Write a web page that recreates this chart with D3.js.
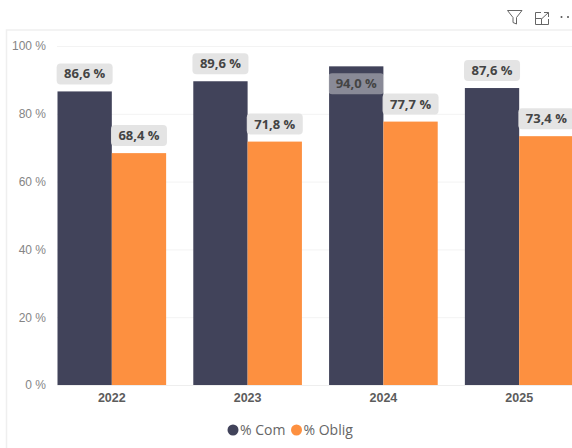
<!DOCTYPE html>
<html>
<head>
<meta charset="utf-8">
<script src="https://cdn.jsdelivr.net/npm/d3@7"></script>
<style>
  html, body { margin: 0; padding: 0; background: #fff; overflow: hidden; }
  svg { display: block; font-family: "Open Sans", sans-serif; }
</style>
</head>
<body>
<svg id="chart" width="572" height="448"></svg>
<script>
const years = ['2022', '2023', '2024', '2025'];
const seriesNames = ['% Com', '% Oblig'];
const comValues = [86.6, 89.6, 94.0, 87.6];
const obligValues = [68.4, 71.8, 77.7, 73.4];
const yTicks = [0, 20, 40, 60, 80, 100];
const seriesColors = ['#41435a', '#fd9040'];

const svg = d3.select('#chart');
const fmt = v => v.toFixed(1).replace('.', ',') + ' %';

// frame of the visual
svg.append('path')
  .attr('d', 'M573,30H6.5V448')
  .attr('fill', 'none')
  .attr('stroke', '#efefef')
  .attr('stroke-width', 1.5);

// scales
const x0 = d3.scaleBand().domain(years).range([57.5, 573.5]).paddingInner(0.2);
const x1 = d3.scaleBand().domain(seriesNames).range([0, x0.bandwidth()]);
const y = d3.scaleLinear().domain([0, 100]).range([385, 46]);

// grid + y axis
const yAxis = svg.append('g')
  .attr('transform', 'translate(57,0)')
  .call(d3.axisLeft(y).tickValues(yTicks).tickFormat(d => d + ' %').tickSize(0).tickPadding(11));
yAxis.select('.domain').remove();
yAxis.selectAll('text')
  .attr('fill', '#858585')
  .style('font-size', '12px');
yAxis.selectAll('.tick').append('line')
  .attr('x2', 516)
  .attr('stroke', '#f3f3f3')
  .attr('stroke-width', 1);

// bars
const rows = years.map((year, i) => ({ year, values: [comValues[i], obligValues[i]] }));
const groups = svg.selectAll('.year')
  .data(rows)
  .join('g')
  .attr('class', 'year')
  .attr('transform', d => `translate(${x0(d.year)},0)`);

groups.selectAll('rect')
  .data(d => d.values.map((v, i) => ({ name: seriesNames[i], value: v, color: seriesColors[i] })))
  .join('rect')
  .attr('x', d => x1(d.name))
  .attr('y', d => y(d.value))
  .attr('width', x1.bandwidth())
  .attr('height', d => y(0) - y(d.value))
  .attr('fill', d => d.color);

// x axis
const xAxis = svg.append('g')
  .attr('transform', 'translate(0,385)')
  .call(d3.axisBottom(x0).tickSize(0).tickPadding(8));
xAxis.select('.domain').attr('stroke', '#eee');
xAxis.selectAll('text')
  .attr('fill', '#5c5c5c')
  .style('font-size', '12.5px')
  .style('font-weight', '700');

// data labels (pills), moved inside the bar when there is no room above
const pillW = 56, pillH = 21;
const labels = groups.selectAll('.label')
  .data(d => d.values.map((v, i) => ({ name: seriesNames[i], value: v })))
  .join('g')
  .attr('class', 'label')
  .attr('transform', d => {
    const cx = x1(d.name) + x1.bandwidth() / 2;
    const top = d.value > 90 ? y(d.value) + 7 : y(d.value) - 7 - pillH;
    return `translate(${cx},${top})`;
  });

labels.append('rect')
  .attr('x', -pillW / 2)
  .attr('width', pillW)
  .attr('height', pillH)
  .attr('rx', 4)
  .attr('fill', '#e3e3e3')
  .attr('fill-opacity', d => d.value > 90 ? 0.45 : 0.95);

labels.append('text')
  .attr('y', pillH / 2)
  .attr('dy', '0.35em')
  .attr('text-anchor', 'middle')
  .attr('fill', '#444')
  .style('font-size', '13px')
  .style('font-weight', '700')
  .text(d => fmt(d.value));

// legend
const legendX = [233, 296.5];
const legend = svg.selectAll('.legend')
  .data(seriesNames)
  .join('g')
  .attr('class', 'legend')
  .attr('transform', (d, i) => `translate(${legendX[i]},430)`);
legend.append('circle')
  .attr('r', 5.5)
  .attr('fill', (d, i) => seriesColors[i]);
legend.append('text')
  .attr('x', 7)
  .attr('dy', '0.35em')
  .attr('fill', '#666')
  .style('font-size', '14px')
  .text(d => d);

// visual header icons
const icons = svg.append('g')
  .attr('fill', 'none')
  .attr('stroke', '#666')
  .attr('stroke-width', 1);
icons.append('path').attr('d', 'M507.5,10.5H522L516.5,17.5V24L513,22.5V17.5Z');
icons.append('path').attr('d', 'M541,12.5H535.5V24.5H548.5V19M535.5,18.5H541.5V24.5M542,18.5L548.5,12.5M544,12.5H548.5V17');
svg.selectAll('.dot')
  .data([561.5, 568])
  .join('circle')
  .attr('class', 'dot')
  .attr('cx', d => d)
  .attr('cy', 17)
  .attr('r', 1)
  .attr('fill', '#555');
</script>
</body>
</html>
